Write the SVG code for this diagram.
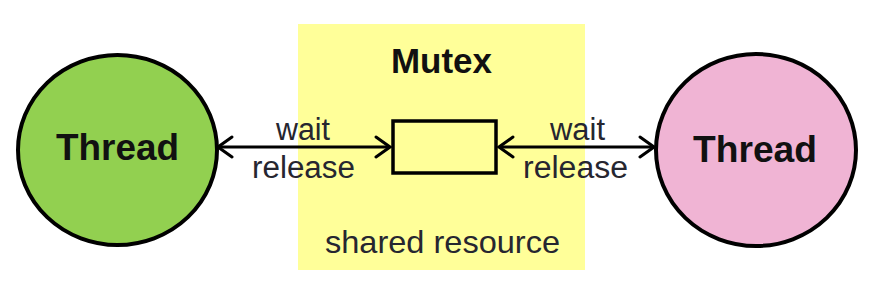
<svg xmlns="http://www.w3.org/2000/svg" width="872" height="292" viewBox="0 0 872 292">
  <style>
    .node { stroke: #000; stroke-width: 4; }
    .lbl { font-family: "Liberation Sans", Arial, sans-serif; fill: #262630; }
    .bold { font-family: "Liberation Sans", Arial, sans-serif; font-weight: bold; fill: #111; }
    .conn { stroke: #000; stroke-width: 3; fill: none; }
  </style>
  <defs>
    <marker id="chev" viewBox="-16 -12 18 24" refX="0" refY="0" markerWidth="18" markerHeight="24" markerUnits="userSpaceOnUse" orient="auto-start-reverse">
      <path d="M-14,-10 L0,0 L-14,10" fill="none" stroke="#000" stroke-width="3" stroke-linecap="round" stroke-linejoin="miter"/>
    </marker>
  </defs>
  <rect width="872" height="292" fill="#fff"/>

  <g id="mutex">
    <rect x="298" y="24" width="287" height="246" fill="#ffff99"/>
    <text class="bold" x="391" y="73" font-size="35" textLength="101" lengthAdjust="spacingAndGlyphs">Mutex</text>
    <rect x="393" y="121" width="103" height="52" fill="#ffff99" stroke="#000" stroke-width="3.5"/>
    <text class="lbl" x="325" y="253" font-size="32" textLength="235" lengthAdjust="spacingAndGlyphs">shared resource</text>
  </g>

  <g id="thread-left">
    <ellipse class="node" cx="117.5" cy="150" rx="99.5" ry="95" fill="#92d050"/>
    <text class="bold" x="56" y="160" font-size="37" textLength="123" lengthAdjust="spacingAndGlyphs">Thread</text>
  </g>

  <g id="thread-right">
    <ellipse class="node" cx="756" cy="150" rx="100" ry="96" fill="#f0b4d4"/>
    <text class="bold" x="693" y="162" font-size="37" textLength="124" lengthAdjust="spacingAndGlyphs">Thread</text>
  </g>

  <g id="connectors">
    <line class="conn" x1="218" y1="147" x2="390" y2="147" marker-start="url(#chev)" marker-end="url(#chev)"/>
    <line class="conn" x1="499" y1="147" x2="654" y2="147" marker-start="url(#chev)" marker-end="url(#chev)"/>
    <text class="lbl" x="276" y="140" font-size="31" textLength="54" lengthAdjust="spacingAndGlyphs">wait</text>
    <text class="lbl" x="252" y="178" font-size="31" textLength="103" lengthAdjust="spacingAndGlyphs">release</text>
    <text class="lbl" x="550" y="140" font-size="31" textLength="55" lengthAdjust="spacingAndGlyphs">wait</text>
    <text class="lbl" x="523" y="178" font-size="31" textLength="105" lengthAdjust="spacingAndGlyphs">release</text>
  </g>
</svg>
